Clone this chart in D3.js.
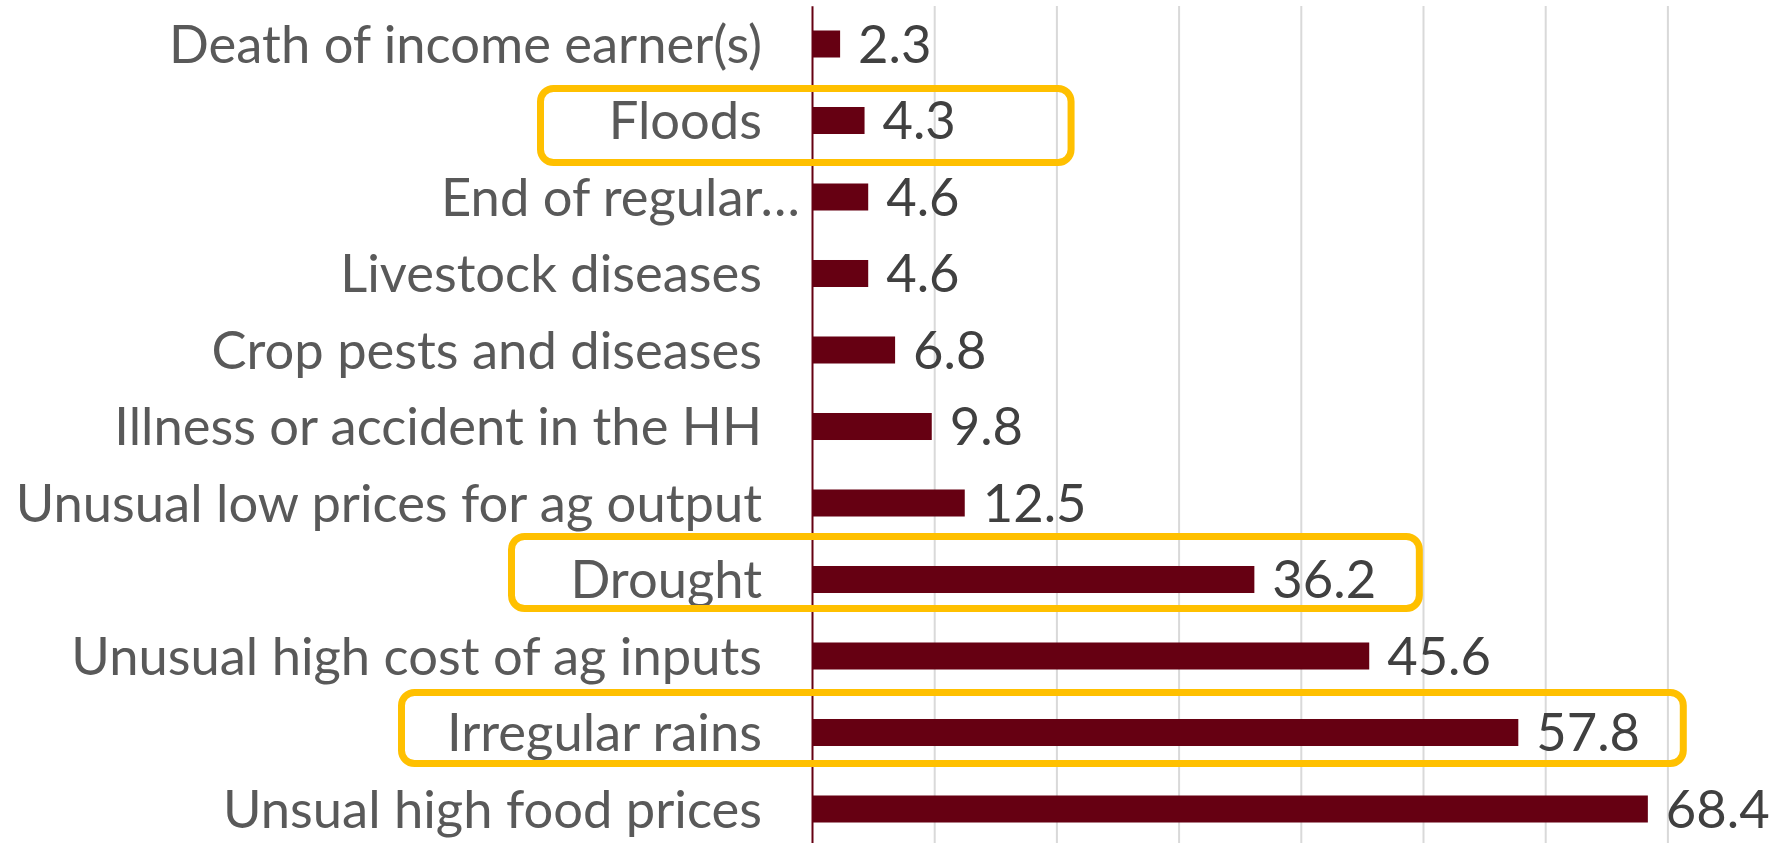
<!DOCTYPE html>
<html>
<head>
<meta charset="utf-8">
<script src="https://cdn.jsdelivr.net/npm/d3@7"></script>
<style>
  body { margin: 0; background: #fff; }
  svg { display: block; font-family: Lato, "Open Sans", sans-serif; }
</style>
</head>
<body>
<svg id="chart"></svg>
<script>
// categories, top to bottom as drawn
const categories = [
    "Death of income earner(s)",
    "Floods",
    "End of regular…",
    "Livestock diseases",
    "Crop pests and diseases",
    "Illness or accident in the HH",
    "Unusual low prices for ag output",
    "Drought",
    "Unusual high cost of ag inputs",
    "Irregular rains",
    "Unsual high food prices"
];
const values = [2.3, 4.3, 4.6, 4.6, 6.8, 9.8, 12.5, 36.2, 45.6, 57.8, 68.4];
const gridTicks = [10, 20, 30, 40, 50, 60, 70, 80];
const highlighted = ["Floods", "Drought", "Irregular rains"];

const width = 1775, height = 843;
const axisX = 812;
const fontSize = 52.5;

const svg = d3.select("#chart")
    .attr("width", width)
    .attr("height", height);

const data = categories.map((c, i) => ({ key: c, value: values[i] }));

// scales
const xScale = d3.scaleLinear()
    .domain([0, 80])
    .range([axisX, axisX + 80 * 12.22]);

const yScale = d3.scaleBand()
    .domain(categories)
    .range([5.75, 847.25])
    .paddingInner(0.647)
    .paddingOuter(0.3235);

// gridlines
const grid = svg.append("g")
    .attr("class", "grid")
    .attr("transform", `translate(0,${height})`)
    .call(d3.axisBottom(xScale).tickValues(gridTicks).tickSize(-(height - 6)).tickFormat(""));
grid.select(".domain").remove();
grid.selectAll("line").attr("stroke", "#d9d9d9").attr("stroke-width", 2);

// bars
svg.append("g").selectAll("rect")
    .data(data)
    .join("rect")
    .attr("x", xScale(0))
    .attr("y", d => yScale(d.key))
    .attr("width", d => xScale(d.value) - xScale(0))
    .attr("height", yScale.bandwidth())
    .attr("fill", "#660012");

// value labels
svg.append("g").selectAll("text")
    .data(data)
    .join("text")
    .attr("x", d => xScale(d.value) + 18)
    .attr("y", d => yScale(d.key) + yScale.bandwidth() / 2 + fontSize * 0.36)
    .attr("fill", "#404040")
    .style("font-size", fontSize + "px")
    .text(d => d.value.toFixed(1));

// category axis
const yAxisG = svg.append("g")
    .attr("transform", `translate(${axisX},0)`)
    .call(d3.axisLeft(yScale).tickSize(0).tickSizeOuter(0).tickPadding(50));
yAxisG.select(".domain").attr("stroke", "#660012").attr("stroke-width", 2);
yAxisG.selectAll(".tick text")
    .attr("fill", "#595959")
    .attr("dy", null)
    .attr("y", fontSize * 0.36)
    .style("font-size", fontSize + "px")
    .style("font-family", "Lato, 'Open Sans', sans-serif")
    .attr("x", d => d === "End of regular…" ? -12 : -50);

// highlight boxes (hand placed in the original)
const boxes = [
    { key: "Floods", left: -271.5, right: 21.2, dy: 5, h: 74 },
    { key: "Drought", left: -300.5, right: 49.7, dy: -7, h: 72 },
    { key: "Irregular rains", left: -410.5, right: 71.3, dy: -4.5, h: 71 }
];
svg.append("g").selectAll("rect")
    .data(boxes.filter(b => highlighted.includes(b.key)))
    .join("rect")
    .attr("x", d => axisX + d.left)
    .attr("y", d => yScale(d.key) + yScale.bandwidth() / 2 + d.dy - d.h / 2)
    .attr("width", d => xScale(d.right) - (axisX + d.left))
    .attr("height", d => d.h)
    .attr("rx", 13)
    .attr("fill", "none")
    .attr("stroke", "#ffc000")
    .attr("stroke-width", 7);
</script>
</body>
</html>
